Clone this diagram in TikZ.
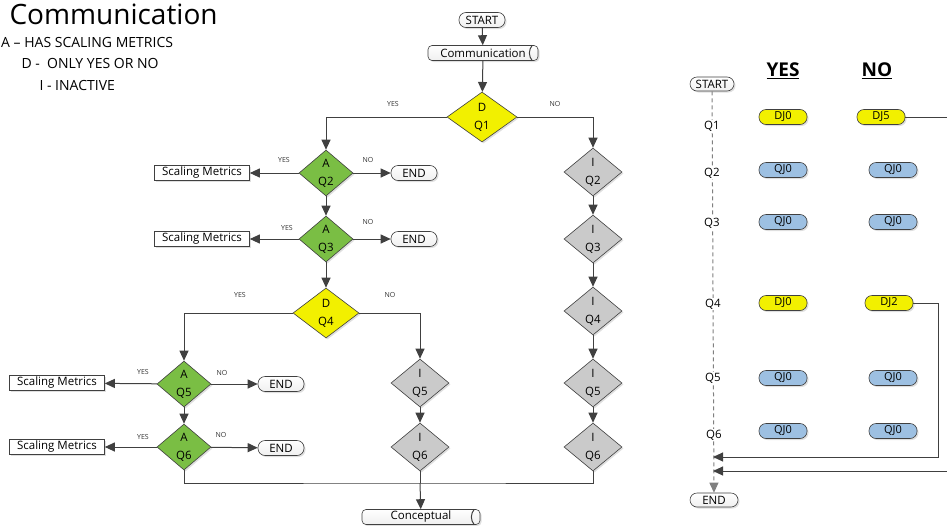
\documentclass[tikz,border=0pt]{standalone}
\usepackage{fontspec}
\setmainfont{Open Sans}
\usetikzlibrary{arrows.meta,positioning,shapes.geometric,calc,shadows}
\definecolor{linegray}{RGB}{64,64,64}
\definecolor{dyellow}{RGB}{242,240,0}
\definecolor{agreen}{RGB}{122,190,68}
\definecolor{igray}{RGB}{202,202,202}
\definecolor{pillblue}{RGB}{157,192,226}

\begin{document}
\begin{tikzpicture}[x=1pt,y=-1pt,
  shd/.style={drop shadow={shadow xshift=1.5pt,shadow yshift=-1.5pt,opacity=0.25}},
  dec/.style={diamond,draw=linegray,line width=0.6pt,inner sep=0pt,align=center,shd,
    font=\fontsize{11.5}{18}\selectfont},
  dyes/.style={dec,fill=dyellow,minimum width=70pt,minimum height=50pt},
  ascale/.style={dec,fill=agreen,minimum width=54pt,minimum height=46pt},
  inact/.style={dec,fill=igray,minimum width=58pt,minimum height=48pt},
  term/.style={draw=linegray,line width=0.6pt,rounded corners=7pt,minimum width=46pt,minimum height=15pt,
    inner sep=0pt,top color=white,bottom color=gray!12,shd,font=\fontsize{11.5}{12}\selectfont},
  store/.style={term,rounded corners=4pt},
  metric/.style={draw=linegray,line width=0.6pt,fill=white,minimum width=95pt,minimum height=15pt,
    inner sep=1pt,shd,font=\fontsize{11.5}{12}\selectfont},
  pill/.style={draw=linegray,line width=0.6pt,rounded corners=7pt,minimum width=48pt,minimum height=15pt,
    inner sep=0pt,shd,font=\fontsize{11}{11}\selectfont},
  lbl/.style={text=black!80,font=\fontsize{7}{7}\selectfont},
  qlbl/.style={fill=white,inner sep=1pt,font=\fontsize{11.5}{12}\selectfont},
  arr/.style={-{Triangle[length=10pt,width=9pt]},linegray,line width=1pt},
  ln/.style={linegray,line width=1pt}
]
\useasboundingbox (0,0) rectangle (947,525);

% title and key
\node[anchor=west,font=\fontsize{28}{30}\selectfont] (title) at (6,14) {Communication};
\node[anchor=west,inner sep=0pt,font=\fontsize{14}{16}\selectfont] (keya) at (1,42) {A – HAS SCALING METRICS};
\node[anchor=west,font=\fontsize{14}{16}\selectfont] (keyd) at (18,63) {D -\ \ ONLY YES OR NO};
\node[anchor=west,font=\fontsize{14}{16}\selectfont] (keyi) at (36,85) {I - INACTIVE};

% flow chart
\node[term] (start) at (482,20) {START};
\node[store,minimum width=110pt] (comm) at (483,53) {Communication};
\node[dyes] (q1) at (482,117) {D\\Q1};
\node[ascale] (q2) at (326,173) {A\\Q2};
\node[ascale] (q3) at (326,239) {A\\Q3};
\node[dyes,minimum width=66pt] (q4) at (326,313) {D\\Q4};
\node[ascale] (q5) at (184,384) {A\\Q5};
\node[ascale] (q6) at (184,447) {A\\Q6};
\node[inact] (i2) at (593,172) {I\\Q2};
\node[inact] (i3) at (593,239) {I\\Q3};
\node[inact] (i4) at (593,311) {I\\Q4};
\node[inact] (i5) at (593,383) {I\\Q5};
\node[inact] (i6) at (593,447) {I\\Q6};
\node[inact] (m5) at (420,383) {I\\Q5};
\node[inact] (m6) at (420,447) {I\\Q6};
\node[metric] (sm2) at (202,173) {Scaling Metrics};
\node[metric] (sm3) at (202,239) {Scaling Metrics};
\node[metric] (sm5) at (57,383) {Scaling Metrics};
\node[metric] (sm6) at (57,447) {Scaling Metrics};
\node[term] (end2) at (414,173) {END};
\node[term] (end3) at (414,239) {END};
\node[term] (end5) at (281,384) {END};
\node[term] (end6) at (281,448) {END};
\node[store,minimum width=118pt] (concept) at (421,517) {Conceptual};
\draw[ln] ([xshift=-6pt]comm.north east) to[bend right=40] ([xshift=-6pt]comm.south east);
\draw[ln] ([xshift=-6pt]concept.north east) to[bend right=40] ([xshift=-6pt]concept.south east);

\draw[arr] (start) -- (comm);
\draw[arr] (comm) -- (q1);
\draw[arr] (q1) -| (q2);
\draw[arr] (q1) -| (i2);
\draw[arr] (q2) -- (sm2);
\draw[arr] (q2) -- (end2);
\draw[arr] (q2) -- (q3);
\draw[arr] (q3) -- (sm3);
\draw[arr] (q3) -- (end3);
\draw[arr] (q3) -- (q4);
\draw[arr] (q4) -| (q5);
\draw[arr] (q4) -| (m5);
\draw[arr] (q5) -- (sm5);
\draw[arr] (q5) -- (end5);
\draw[arr] (q5) -- (q6);
\draw[arr] (q6) -- (sm6);
\draw[arr] (q6) -- (end6);
\draw[arr] (m5) -- (m6);
\draw[arr] (i2) -- (i3);
\draw[arr] (i3) -- (i4);
\draw[arr] (i4) -- (i5);
\draw[arr] (i5) -- (i6);
\coordinate (jn) at (420,483);
\draw[ln] (q6) |- (jn) -| (i6);
\draw[ln] (m6) -- (jn);
\draw[arr] (jn) -- (concept);

\node[lbl] (y1) at (393,104) {YES};
\node[lbl] (n1) at (555,104) {NO};
\node[lbl] (y2) at (284,160) {YES};
\node[lbl] (n2) at (368,160) {NO};
\node[lbl] (y3) at (287,228) {YES};
\node[lbl] (n3) at (368,222) {NO};
\node[lbl] (y4) at (240,295) {YES};
\node[lbl] (n4) at (390,295) {NO};
\node[lbl] (y5) at (143,372) {YES};
\node[lbl] (n5) at (222,373) {NO};
\node[lbl] (y6) at (143,437) {YES};
\node[lbl] (n6) at (221,435) {NO};

% summary
\node[font=\fontsize{19}{22}\selectfont\bfseries] (hyes) at (783,71) {\underline{YES}};
\node[font=\fontsize{19}{22}\selectfont\bfseries] (hno) at (877,71) {\underline{NO}};
\node[term,minimum width=44pt,minimum height=14pt] (rstart) at (712,84) {START};
\node[term,minimum width=48pt,minimum height=14pt] (rend) at (714,500) {END};
\draw[arr,gray,dash pattern=on 4pt off 3pt] (rstart) -- (rend);
\node[qlbl] (r1) at (712,126) {Q1};
\node[qlbl] (r2) at (712,173) {Q2};
\node[qlbl] (r3) at (712,223) {Q3};
\node[qlbl] (r4) at (713,304) {Q4};
\node[qlbl] (r5) at (713,378) {Q5};
\node[qlbl] (r6) at (714,435) {Q6};
\node[pill,fill=dyellow] (yq1) at (783,117) {DJ0};
\node[pill,fill=pillblue] (yq2) at (783,170) {QJ0};
\node[pill,fill=pillblue] (yq3) at (783,222) {QJ0};
\node[pill,fill=dyellow] (yq4) at (783,303) {DJ0};
\node[pill,fill=pillblue] (yq5) at (783,378) {QJ0};
\node[pill,fill=pillblue] (yq6) at (783,431) {QJ0};
\node[pill,fill=dyellow] (nq1) at (881,117) {DJ5};
\node[pill,fill=pillblue] (nq2) at (893,170) {QJ0};
\node[pill,fill=pillblue] (nq3) at (893,222) {QJ0};
\node[pill,fill=dyellow] (nq4) at (889,303) {DJ2};
\node[pill,fill=pillblue] (nq5) at (893,378) {QJ0};
\node[pill,fill=pillblue] (nq6) at (893,431) {QJ0};
\coordinate (e1) at (950,117);
\coordinate (turn) at (938,457);
\coordinate (m1) at (713,457);
\coordinate (e2) at (950,471);
\coordinate (m2) at (713,471);
\draw[ln] (nq1) -- (e1);
\draw[arr] (nq4) -| (turn) -- (m1);
\draw[arr] (e2) -- (m2);
\end{tikzpicture}
\end{document}
